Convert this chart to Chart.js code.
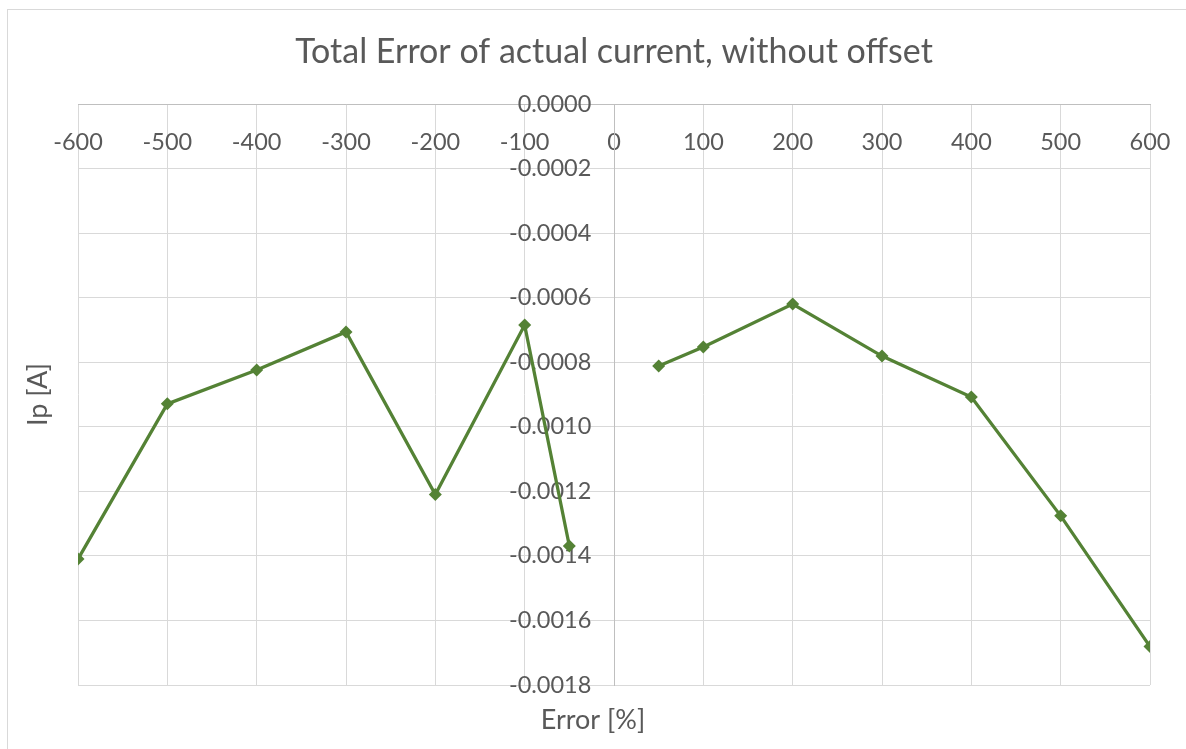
<!DOCTYPE html>
<html>
<head>
<meta charset="utf-8">
<script src="https://cdn.jsdelivr.net/npm/chart.js@4"></script>
<style>
  html, body { margin: 0; padding: 0; background: #ffffff; overflow: hidden; }
  #frame { position: absolute; left: 7px; top: 9px; width: 1300px; height: 900px;
           border-left: 1px solid #d9d9d9; border-top: 1px solid #d9d9d9; }
  #wrap { position: absolute; left: 0; top: 0; width: 1186px; height: 749px; }
</style>
</head>
<body>
<div id="frame"></div>
<div id="wrap"><canvas id="c" width="1186" height="749"></canvas></div>
<script>
// ---- data ----
const errorPct = [-600, -500, -400, -300, -200, -100, -50, 0, 50, 100, 200, 300, 400, 500, 600];
const ipAmps   = [-0.00141, -0.000929, -0.000824, -0.000706, -0.001210, -0.000685, -0.001369, null,
                  -0.000812, -0.000753, -0.000620, -0.000781, -0.000908, -0.001276, -0.001681];
const xTickValues = [-600, -500, -400, -300, -200, -100, 0, 100, 200, 300, 400, 500, 600];
const yTickValues = [0, -0.0002, -0.0004, -0.0006, -0.0008, -0.0010, -0.0012, -0.0014, -0.0016, -0.0018];
const chartTitle = 'Total Error of actual current, without offset';
const xTitle = 'Error [%]';
const yTitle = 'Ip [A]';

const points = errorPct.map((x, i) => ({ x: x, y: ipAmps[i] }));

Chart.defaults.font.family = 'Lato';
Chart.defaults.color = '#595959';

const TEXT = '#595959';
const GRID = '#d9d9d9';
const AXIS = '#bfbfbf';
const GREEN = '#548235';

const noPadX = s => { s.height = 0; s.paddingLeft = 0; s.paddingRight = 0; };
const noPadY = s => { s.width = 0; s.paddingTop = 0; s.paddingBottom = 0; };

new Chart(document.getElementById('c'), {
  type: 'line',
  data: {
    datasets: [{
      data: points,
      borderColor: GREEN,
      backgroundColor: GREEN,
      borderWidth: 3.25,
      pointStyle: 'rectRot',
      pointRadius: 6.5,
      pointHoverRadius: 6.5,
      pointBorderWidth: 0,
      spanGaps: false,
      tension: 0,
      fill: false
    }]
  },
  options: {
    responsive: false,
    animation: false,
    events: [],
    layout: { padding: 0 },
    plugins: {
      legend: { display: false },
      tooltip: { enabled: false },
      title: {
        display: true,
        text: chartTitle,
        color: TEXT,
        font: { size: 34, weight: 'normal', lineHeight: 1.2 },
        padding: { top: 31.6, bottom: 31.6 },
        fullSize: false
      },
      subtitle: {
        display: true,
        text: xTitle,
        position: 'bottom',
        color: TEXT,
        font: { size: 27, weight: 'normal', lineHeight: 1.2 },
        padding: { top: 18.8, bottom: 12.8 },
        fullSize: true
      }
    },
    scales: {
      x: {
        type: 'linear',
        position: { y: 0 },
        min: -600, max: 600,
        afterFit: noPadX,
        afterBuildTicks: s => { s.ticks = xTickValues.map(v => ({ value: v })); },
        ticks: {
          autoSkip: false, maxRotation: 0, padding: 24,
          color: TEXT, font: { size: 23.5 },
          callback: v => String(v)
        },
        grid: { color: GRID, lineWidth: 1, drawTicks: false },
        border: { color: AXIS, width: 1 }
      },
      y: {
        type: 'linear',
        position: { x: 0 },
        min: -0.0018, max: 0,
        afterFit: noPadY,
        afterBuildTicks: s => { s.ticks = yTickValues.map(v => ({ value: v })); },
        ticks: {
          autoSkip: false, padding: 26,
          color: TEXT, font: { size: 23.5 },
          callback: v => (Math.abs(v) < 1e-12 ? 0 : v).toFixed(4) + '\u2003\u2008'
        },
        grid: { color: GRID, lineWidth: 1, drawTicks: false },
        border: { color: AXIS, width: 1 }
      },
      yTitleAxis: {
        type: 'linear',
        axis: 'y',
        position: 'left',
        afterFit: s => { s.width = 78; },
        ticks: { display: false },
        grid: { display: false, drawTicks: false },
        border: { display: false },
        title: {
          display: true, text: yTitle, color: TEXT,
          font: { size: 27, lineHeight: 1.2 },
          padding: { top: 21.8, bottom: 0 }
        }
      },
      rightSpacer: {
        type: 'linear',
        axis: 'y',
        position: 'right',
        afterFit: s => { s.width = 36; },
        ticks: { display: false },
        grid: { display: false, drawTicks: false },
        border: { display: false }
      }
    }
  }
});
</script>
</body>
</html>
